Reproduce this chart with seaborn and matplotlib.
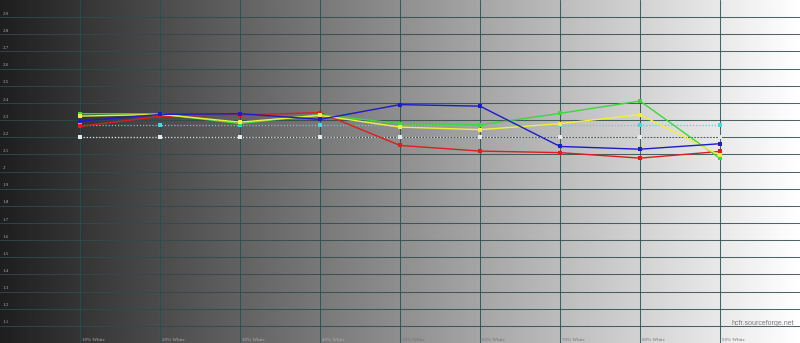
import numpy as np
import pandas as pd
import matplotlib
matplotlib.use("Agg")
import matplotlib.pyplot as plt
import seaborn as sns

# ---- data ----
levels = [10, 20, 30, 40, 50, 60, 70, 80, 90]
x_labels = ["10% White", "20% White", "30% White", "40% White", "50% White",
            "60% White", "70% White", "80% White", "90% White"]
reference_gamma = [2.2, 2.2, 2.2, 2.2, 2.2, 2.2, 2.2, 2.2, 2.2]
luminance_gamma = [2.273, 2.273, 2.273, 2.273, 2.273, 2.273, 2.273, 2.273, 2.273]
red_gamma = [2.263, 2.322, 2.330, 2.343, 2.152, 2.119, 2.110, 2.078, 2.117]
green_gamma = [2.337, 2.336, 2.279, 2.332, 2.279, 2.272, 2.339, 2.411, 2.076]
blue_gamma = [2.294, 2.333, 2.337, 2.304, 2.390, 2.381, 2.146, 2.130, 2.162]
yellow_gamma = [2.323, 2.333, 2.288, 2.327, 2.259, 2.244, 2.279, 2.332, 2.094]
y_ticks = [1.1, 1.2, 1.3, 1.4, 1.5, 1.6, 1.7, 1.8, 1.9, 2.0,
           2.1, 2.2, 2.3, 2.4, 2.5, 2.6, 2.7, 2.8, 2.9]
y_tick_labels = ["1.1", "1.2", "1.3", "1.4", "1.5", "1.6", "1.7", "1.8", "1.9", "2",
                 "2.1", "2.2", "2.3", "2.4", "2.5", "2.6", "2.7", "2.8", "2.9"]

sns.set_style("white")
fig = plt.figure(figsize=(8.0, 3.43), dpi=100)
ax = fig.add_axes([0, 0, 1, 1])
ax.set_xlim(0, 100)
ax.set_ylim(1, 3)

# gradient background
grad = np.linspace(0.12, 1.0, 512)[None, :]
ax.imshow(grad, extent=[0, 100, 1, 3], aspect="auto", cmap="gray",
          vmin=0, vmax=1, zorder=0, interpolation="bilinear")

grid_c = "#2f4b4b"
for yv in y_ticks:
    ax.axhline(yv, color=grid_c, lw=0.75, alpha=0.85, zorder=1)
for xv in levels:
    ax.axvline(xv, color=grid_c, lw=0.75, alpha=0.85, zorder=1)

df = pd.DataFrame({"level": levels, "ref": reference_gamma, "lum": luminance_gamma,
                   "red": red_gamma, "green": green_gamma, "blue": blue_gamma,
                   "yellow": yellow_gamma})

sns.lineplot(data=df, x="level", y="ref", ax=ax, color="#e8e8e8", lw=0.9,
             linestyle=(0, (1, 1.5)), marker="s", markersize=3.2,
             markeredgewidth=0, zorder=2)
sns.lineplot(data=df, x="level", y="lum", ax=ax, color="#40dcdc", lw=0.9,
             linestyle=(0, (1, 1.5)), marker="s", markersize=3.3,
             markeredgewidth=0, zorder=2)
series = [("red", "#e01c1c"), ("green", "#3cd83c"), ("yellow", "#f0f03c"),
          ("blue", "#1c1cc8")]
for col, c in series:
    sns.lineplot(data=df, x="level", y=col, ax=ax, color=c, lw=1.0,
                 marker="s", markersize=3.2, markeredgewidth=0, zorder=3)

ax.set_xlabel("")
ax.set_ylabel("")
ax.set_xticks([])
ax.set_yticks([])
for s in ax.spines.values():
    s.set_visible(False)

lab_font = dict(family="Liberation Serif", fontsize=3.6, color="#a8a8a8")
for yv, lab in zip(y_ticks, y_tick_labels):
    ax.text(0.3, yv + 0.008, lab, ha="left", va="bottom", **lab_font)
for xv, lab in zip(levels, x_labels):
    tc = "#b0b0b0" if xv < 50 else "#707070"
    ax.text(xv + 0.2, 1.018, lab, ha="left", va="center",
            family="Liberation Serif", fontsize=3.6, color=tc)

ax.text(99.3, 1.113, "hcfr.sourceforge.net", ha="right", va="center",
        family="Liberation Sans", fontsize=5, color="#7a7a7a")

fig.savefig("out.png", dpi=100)
